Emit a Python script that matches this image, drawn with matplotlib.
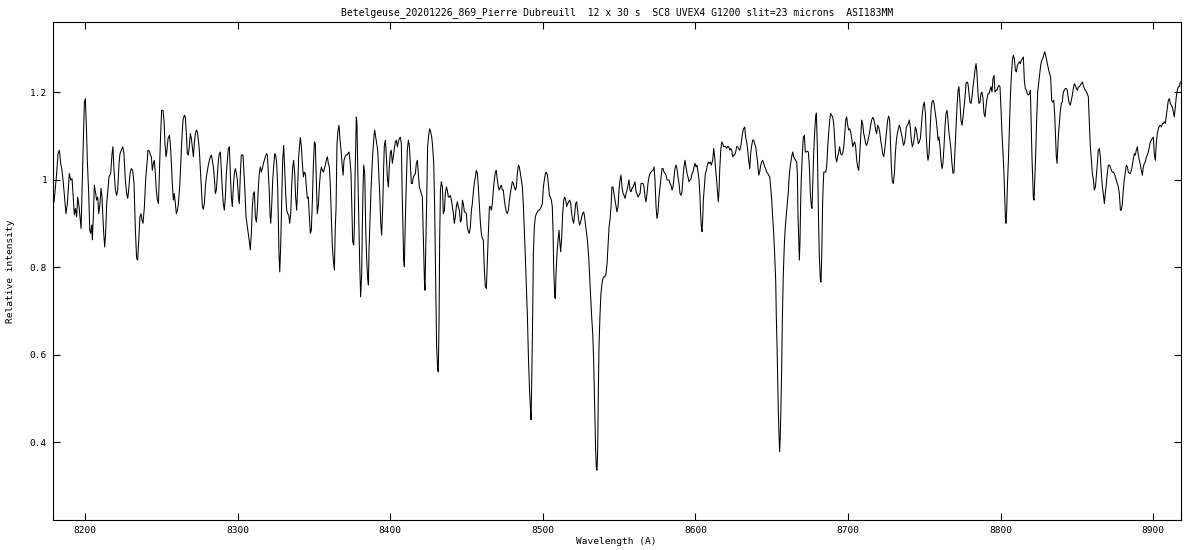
import numpy as np
import matplotlib
matplotlib.use("Agg")
import matplotlib.pyplot as plt
from matplotlib.ticker import FixedLocator, FuncFormatter

title = "Betelgeuse_20201226_869_Pierre Dubreuill  12 x 30 s  SC8 UVEX4 G1200 slit=23 microns  ASI183MM"
x_label = "Wavelength (A)"
y_label = "Relative intensity"
x_ticks = [8200, 8300, 8400, 8500, 8600, 8700, 8800, 8900]
y_ticks = [0.4, 0.6, 0.8, 1.0, 1.2]

wl_1 = [8178.8, 8179.7, 8180.6, 8181.4, 8182.3, 8183.2, 8184.05, 8184.9, 8185.8, 8186.7, 8187.5, 8188.4, 8189.1, 8189.7, 8190.6, 8191.5, 8192.4, 8193.0, 8193.7, 8194.5, 8195.2, 8196.1, 8196.7, 8197.4, 8198.2, 8198.9, 8199.6, 8200.2, 8200.9, 8201.5, 8202.4, 8203.1, 8203.7, 8204.4, 8204.8, 8205.5, 8206.1, 8207.0, 8207.6, 8208.3, 8209.0, 8209.8, 8210.5, 8211.1, 8211.8, 8212.4, 8212.9, 8213.5, 8214.2, 8215.1, 8215.7, 8216.8, 8217.7, 8218.3, 8219.0, 8219.9, 8220.7, 8221.4, 8222.3, 8222.9, 8223.8, 8224.7, 8225.5, 8226.4, 8227.3, 8228.0, 8228.6, 8229.5, 8230.3, 8231.2, 8232.1, 8233.0, 8233.8, 8234.5, 8235.2, 8236.0, 8236.7, 8237.3, 8238.0, 8238.9, 8239.7, 8240.6, 8241.3]
fl_1 = [0.980, 0.949, 0.983, 1.014, 1.059, 1.067, 1.037, 1.021, 0.991, 0.953, 0.922, 0.945, 0.983, 1.014, 0.999, 1.002, 0.953, 0.919, 0.934, 0.915, 0.960, 0.938, 0.915, 0.888, 0.999, 1.090, 1.177, 1.185, 1.120, 1.044, 0.968, 0.884, 0.877, 0.896, 0.862, 0.922, 0.987, 0.968, 0.953, 0.960, 0.922, 0.945, 0.980, 0.960, 0.907, 0.869, 0.846, 0.877, 0.945, 0.983, 1.006, 1.014, 1.059, 1.075, 1.021, 0.976, 0.964, 0.976, 1.037, 1.059, 1.067, 1.075, 1.059, 0.999, 0.968, 0.957, 0.976, 1.014, 1.025, 1.021, 0.991, 0.884, 0.820, 0.816, 0.862, 0.915, 0.922, 0.907, 0.900, 0.938, 0.999, 1.037, 1.067]

wl_2 = [8242.2, 8242.8, 8243.5, 8244.1, 8244.8, 8245.4, 8246.1, 8246.7, 8247.4, 8248.1, 8248.7, 8249.4, 8250.2, 8251.1, 8251.8, 8252.4, 8253.1, 8253.7, 8254.4, 8255.3, 8255.9, 8256.6, 8257.2, 8257.9, 8258.5, 8259.2, 8259.8, 8260.5, 8261.2, 8262.0, 8262.7, 8263.3, 8264.2, 8265.1, 8265.7, 8266.4, 8267.05, 8267.7, 8268.4, 8269.0, 8269.7, 8270.3, 8271.0, 8271.6, 8272.3, 8273.0, 8273.6, 8274.3, 8274.9, 8275.6, 8276.2, 8276.9, 8277.5, 8278.2, 8278.85, 8279.5, 8280.2, 8280.8, 8281.5, 8282.1, 8282.8, 8283.4, 8284.1, 8284.7, 8285.4, 8286.05, 8286.7, 8287.4, 8288.0, 8288.7, 8289.3, 8290.0, 8290.6, 8291.3, 8291.95, 8292.6, 8293.3, 8293.9, 8294.6, 8295.2, 8295.9, 8296.5, 8297.2, 8297.85, 8298.5, 8299.2, 8299.8, 8300.5, 8301.1, 8301.8, 8302.4]
fl_2 = [1.065, 1.056, 1.052, 1.021, 1.037, 1.044, 1.014, 0.976, 0.953, 0.945, 1.014, 1.090, 1.158, 1.158, 1.132, 1.082, 1.052, 1.067, 1.094, 1.101, 1.082, 1.037, 0.991, 0.953, 0.968, 0.945, 0.922, 0.930, 0.945, 0.983, 1.033, 1.082, 1.136, 1.147, 1.143, 1.105, 1.059, 1.056, 1.078, 1.105, 1.094, 1.075, 1.052, 1.082, 1.105, 1.113, 1.109, 1.090, 1.067, 1.021, 0.983, 0.938, 0.932, 0.945, 0.983, 1.006, 1.021, 1.033, 1.044, 1.052, 1.056, 1.044, 1.029, 1.006, 0.968, 0.976, 1.010, 1.044, 1.059, 1.063, 1.021, 0.976, 0.945, 0.930, 0.960, 1.014, 1.044, 1.071, 1.075, 1.014, 0.960, 0.938, 0.983, 1.014, 1.025, 1.014, 0.999, 0.960, 0.945, 1.014, 1.056]

wl_3 = [8303.5, 8304.2, 8304.85, 8305.5, 8306.4, 8307.0, 8307.7, 8308.3, 8309.0, 8309.65, 8310.3, 8311.0, 8311.6, 8312.3, 8312.9, 8313.6, 8314.2, 8314.9, 8315.55, 8316.2, 8316.9, 8317.5, 8318.2, 8318.8, 8319.5, 8320.1, 8320.8, 8321.2, 8321.7, 8322.3, 8323.0, 8323.6, 8324.3, 8324.9, 8325.6, 8326.25, 8326.7, 8327.1, 8327.6, 8328.2, 8328.9, 8329.5, 8330.2, 8330.8, 8331.5, 8332.15, 8332.8, 8333.5, 8334.1, 8334.8, 8335.4, 8336.1, 8336.7, 8337.4, 8338.0, 8338.7, 8339.35, 8340.0, 8340.7, 8341.1, 8341.8, 8342.4, 8343.1, 8343.7, 8344.4, 8345.0, 8345.7, 8346.3, 8347.0, 8347.65, 8348.3, 8349.0, 8349.6, 8350.3, 8350.9, 8351.6, 8352.2, 8352.9, 8353.55, 8354.2, 8354.9, 8355.5, 8356.2, 8356.8, 8357.5, 8358.1, 8358.8, 8359.45, 8360.1, 8360.8, 8361.4, 8362.1, 8362.7, 8363.4, 8364.0, 8364.5]
fl_3 = [1.056, 1.014, 0.968, 0.915, 0.892, 0.877, 0.858, 0.839, 0.877, 0.938, 0.968, 0.972, 0.915, 0.903, 0.930, 0.983, 1.014, 1.029, 1.017, 1.025, 1.037, 1.044, 1.052, 1.059, 1.056, 1.014, 0.968, 0.922, 0.900, 0.938, 0.999, 1.029, 1.059, 1.056, 1.037, 0.983, 0.900, 0.831, 0.789, 0.846, 0.953, 1.044, 1.078, 1.029, 0.968, 0.930, 0.922, 0.919, 0.900, 0.922, 0.983, 1.029, 1.044, 1.014, 0.960, 0.930, 0.983, 1.052, 1.082, 1.096, 1.075, 1.037, 1.006, 1.017, 1.014, 0.983, 0.957, 0.960, 0.915, 0.877, 0.884, 0.953, 1.029, 1.086, 1.082, 0.991, 0.922, 0.941, 0.983, 1.014, 1.029, 1.021, 1.017, 1.025, 1.033, 1.044, 1.052, 1.037, 1.029, 0.983, 0.915, 0.846, 0.816, 0.793, 0.892, 0.934]

wl_4 = [8365.1, 8365.8, 8366.45, 8367.1, 8367.8, 8368.4, 8369.1, 8369.7, 8370.4, 8371.0, 8371.7, 8372.3, 8373.0, 8373.65, 8374.3, 8375.0, 8375.4, 8376.1, 8376.5, 8376.9, 8377.4, 8377.8, 8378.2, 8378.7, 8379.3, 8380.0, 8380.6, 8381.3, 8381.7, 8382.2, 8382.6, 8383.3, 8383.9, 8384.6, 8385.2, 8385.7, 8386.1, 8386.8, 8387.4, 8388.1, 8388.7, 8389.4, 8389.8, 8390.5, 8391.1, 8391.8, 8392.4, 8393.1, 8393.75, 8394.4, 8395.1, 8395.7, 8396.15, 8396.8, 8397.5, 8398.1, 8398.8, 8399.4, 8400.1, 8400.7, 8401.4, 8402.05, 8402.7, 8403.4, 8404.0, 8404.7, 8405.3, 8406.0, 8406.6, 8407.3, 8407.7, 8408.4, 8408.8, 8409.25, 8409.9, 8410.6, 8411.2, 8411.9, 8412.5, 8413.2, 8413.8, 8414.5, 8415.15, 8415.8, 8416.5, 8417.1, 8417.8, 8418.4, 8419.1, 8419.7, 8420.4, 8421.05, 8421.7, 8422.4, 8422.8, 8423.2, 8423.9, 8424.5, 8425.2, 8425.85]
fl_4 = [1.082, 1.113, 1.124, 1.090, 1.067, 1.037, 1.010, 1.044, 1.052, 1.056, 1.056, 1.059, 1.063, 1.044, 1.014, 0.915, 0.858, 0.850, 0.892, 0.999, 1.082, 1.143, 1.128, 1.029, 0.930, 0.808, 0.732, 0.785, 0.892, 0.983, 1.033, 1.014, 0.892, 0.816, 0.774, 0.759, 0.839, 0.915, 0.976, 1.029, 1.067, 1.101, 1.113, 1.097, 1.082, 1.067, 1.021, 0.968, 0.903, 0.873, 0.938, 1.029, 1.078, 1.090, 1.052, 1.006, 0.983, 1.029, 1.063, 1.067, 1.037, 1.052, 1.071, 1.086, 1.090, 1.075, 1.086, 1.094, 1.097, 1.082, 0.991, 0.877, 0.816, 0.801, 0.907, 0.999, 1.067, 1.090, 1.078, 1.037, 0.991, 0.991, 1.006, 1.010, 1.014, 1.037, 1.044, 1.014, 0.983, 0.976, 0.968, 0.960, 0.869, 0.770, 0.747, 0.831, 0.953, 1.075, 1.101, 1.116]

wl_5 = [8426.5, 8427.2, 8427.8, 8428.5, 8429.1, 8429.8, 8430.4, 8431.1, 8431.5, 8432.0, 8432.4, 8432.9, 8433.5, 8434.2, 8434.8, 8435.5, 8436.1, 8436.8, 8437.4, 8438.1, 8438.75, 8439.4, 8440.1, 8440.7, 8441.4, 8442.0, 8442.7, 8443.3, 8444.0, 8444.6, 8445.3, 8446.0, 8446.6, 8447.3, 8447.9, 8448.6, 8449.2, 8449.9, 8450.5, 8451.2, 8451.85, 8452.5, 8453.2, 8453.8, 8454.5, 8455.1, 8455.8, 8456.4, 8457.1, 8457.75, 8458.4, 8459.1, 8459.7, 8460.4, 8461.0, 8461.7, 8462.3, 8463.0, 8463.65, 8464.3, 8465.0, 8465.6, 8466.3, 8466.9, 8467.6, 8468.2, 8468.9, 8469.5, 8470.2, 8470.85, 8471.5, 8472.2, 8472.8, 8473.5, 8474.1, 8474.8, 8475.4, 8476.1, 8476.75, 8477.4, 8478.1, 8478.7, 8479.4, 8480.0, 8480.7, 8481.3, 8482.0, 8482.65, 8483.3, 8484.0, 8484.6, 8485.3, 8485.9, 8486.6, 8487.2]
fl_5 = [1.109, 1.097, 1.075, 1.037, 0.938, 0.770, 0.618, 0.565, 0.561, 0.679, 0.862, 0.976, 0.995, 0.983, 0.922, 0.930, 0.968, 0.983, 0.976, 0.960, 0.960, 0.964, 0.953, 0.938, 0.922, 0.900, 0.915, 0.938, 0.949, 0.938, 0.930, 0.903, 0.907, 0.953, 0.945, 0.926, 0.926, 0.922, 0.892, 0.881, 0.877, 0.892, 0.930, 0.945, 0.972, 0.991, 1.006, 1.021, 1.014, 0.983, 0.945, 0.900, 0.877, 0.865, 0.862, 0.793, 0.755, 0.751, 0.816, 0.877, 0.938, 0.938, 0.930, 0.945, 0.976, 0.999, 1.017, 1.021, 0.999, 0.983, 0.976, 0.983, 0.987, 0.976, 0.976, 0.953, 0.938, 0.926, 0.922, 0.930, 0.953, 0.968, 0.983, 0.995, 0.991, 0.983, 0.976, 0.983, 1.014, 1.033, 1.029, 1.014, 0.999, 0.983, 0.945]

wl_6 = [8487.9, 8488.55, 8489.2, 8489.9, 8490.5, 8491.2, 8491.8, 8492.3, 8492.7, 8493.4, 8493.8, 8494.45, 8495.1, 8495.8, 8496.4, 8497.1, 8497.7, 8498.4, 8499.0, 8499.7, 8500.35, 8501.0, 8501.7, 8502.3, 8503.0, 8503.6, 8504.3, 8504.9, 8505.6, 8506.2, 8506.7, 8507.1, 8507.8, 8508.2, 8508.65, 8509.3, 8510.0, 8510.6, 8511.05, 8511.7, 8512.4, 8513.0, 8513.7, 8514.3, 8515.0, 8515.6, 8516.3, 8516.95, 8517.6, 8518.3, 8518.9, 8519.6, 8520.2, 8520.9, 8521.5, 8522.2, 8522.8, 8523.5, 8524.15, 8524.8, 8525.5, 8526.1, 8526.8, 8527.4, 8528.1, 8528.7, 8529.4, 8530.05, 8530.7, 8531.4, 8532.0, 8532.7, 8533.3, 8534.0, 8534.6, 8535.1, 8535.5, 8535.95, 8536.4, 8536.8, 8537.5, 8538.1, 8538.8, 8539.4, 8540.1, 8540.75, 8541.4, 8542.1, 8542.7, 8543.4, 8544.0, 8544.7, 8545.3, 8546.0, 8546.6, 8547.3, 8547.95, 8548.6]
fl_6 = [0.884, 0.823, 0.755, 0.687, 0.603, 0.527, 0.481, 0.451, 0.534, 0.702, 0.831, 0.892, 0.915, 0.922, 0.926, 0.930, 0.930, 0.934, 0.938, 0.945, 0.983, 0.999, 1.014, 1.017, 1.010, 0.991, 0.964, 0.960, 0.953, 0.938, 0.884, 0.801, 0.732, 0.728, 0.785, 0.831, 0.862, 0.884, 0.862, 0.835, 0.869, 0.922, 0.953, 0.960, 0.953, 0.938, 0.945, 0.949, 0.953, 0.945, 0.922, 0.907, 0.900, 0.922, 0.945, 0.949, 0.930, 0.907, 0.896, 0.903, 0.915, 0.922, 0.926, 0.915, 0.892, 0.877, 0.854, 0.823, 0.778, 0.732, 0.687, 0.648, 0.588, 0.481, 0.382, 0.340, 0.336, 0.382, 0.519, 0.618, 0.694, 0.740, 0.763, 0.774, 0.778, 0.778, 0.785, 0.808, 0.846, 0.892, 0.907, 0.938, 0.983, 0.983, 0.968, 0.953, 0.938, 0.926]

wl_7 = [8549.3, 8549.9, 8550.6, 8551.25, 8551.9, 8552.6, 8553.2, 8553.9, 8554.5, 8555.2, 8555.8, 8556.5, 8557.1, 8557.8, 8558.45, 8559.1, 8559.8, 8560.4, 8561.1, 8561.7, 8562.4, 8563.0, 8563.7, 8564.35, 8565.0, 8565.7, 8566.3, 8567.0, 8567.6, 8568.3, 8568.9, 8569.6, 8570.25, 8570.9, 8571.6, 8572.2, 8572.9, 8573.5, 8574.2, 8574.8, 8575.5, 8576.1, 8576.8, 8577.45, 8578.1, 8578.8, 8579.4, 8580.1, 8580.7, 8581.4, 8582.0, 8582.7, 8583.35, 8584.0, 8584.7, 8585.3, 8586.0, 8586.6, 8587.3, 8587.9, 8588.6, 8589.25, 8589.9, 8590.6, 8591.2, 8591.9, 8592.5, 8593.2, 8593.8, 8594.5, 8595.1, 8595.8, 8596.5, 8597.1, 8597.8, 8598.4, 8599.1, 8599.7, 8600.4, 8601.0, 8601.7, 8602.35, 8603.0, 8603.4, 8603.9, 8604.3, 8604.75, 8605.2, 8605.85, 8606.5, 8607.2, 8607.8, 8608.5, 8609.1, 8609.8, 8610.4]
fl_7 = [0.938, 0.976, 0.999, 1.010, 0.983, 0.968, 0.964, 0.957, 0.968, 0.976, 0.987, 0.999, 0.976, 0.972, 0.980, 0.983, 0.989, 0.995, 0.972, 0.968, 0.960, 0.964, 0.968, 0.991, 0.991, 0.991, 0.983, 0.960, 0.949, 0.968, 0.991, 1.006, 1.014, 1.017, 1.020, 1.021, 1.029, 0.999, 0.938, 0.911, 0.926, 0.960, 0.983, 1.006, 1.025, 1.025, 1.017, 1.014, 1.010, 0.999, 0.999, 0.999, 0.991, 0.987, 0.976, 0.983, 1.006, 1.025, 1.033, 1.025, 1.006, 0.991, 0.968, 0.964, 0.972, 1.006, 1.029, 1.044, 1.029, 1.014, 1.006, 0.995, 0.999, 1.002, 1.014, 1.017, 1.029, 1.037, 1.029, 1.033, 1.017, 0.999, 0.960, 0.922, 0.892, 0.881, 0.907, 0.953, 0.983, 1.014, 1.021, 1.033, 1.040, 1.037, 1.040, 1.033]

wl_8 = [8611.3, 8612.0, 8612.6, 8613.3, 8613.9, 8614.6, 8615.0, 8615.5, 8615.9, 8616.6, 8617.2, 8617.9, 8618.5, 8619.2, 8619.8, 8620.5, 8621.15, 8621.8, 8622.5, 8623.1, 8623.8, 8624.4, 8625.1, 8625.7, 8626.4, 8627.0, 8627.7, 8628.35, 8629.0, 8629.7, 8630.3, 8631.0, 8631.6, 8632.3, 8632.9, 8633.6, 8634.25, 8634.9, 8635.6, 8636.2, 8636.9, 8637.5, 8638.2, 8638.8, 8639.5, 8640.15, 8640.8, 8641.5, 8642.1, 8642.8, 8643.4, 8644.1, 8644.7, 8645.4, 8646.0, 8646.7, 8647.35, 8648.0, 8648.7, 8649.3, 8650.0, 8650.6, 8651.3, 8651.9, 8652.6, 8653.0, 8653.5, 8653.9, 8654.3, 8654.8, 8655.2, 8655.65, 8656.1, 8656.5, 8657.0, 8657.6, 8658.3, 8658.9, 8659.6, 8660.2, 8660.9, 8661.3, 8661.8, 8662.4, 8663.1, 8663.7, 8664.4, 8665.0, 8665.7, 8666.35, 8666.8, 8667.2, 8667.7, 8668.1, 8668.5, 8669.0, 8669.4, 8670.1, 8670.7, 8671.4, 8672.0]
fl_8 = [1.044, 1.071, 1.052, 1.021, 0.999, 0.968, 0.949, 0.976, 1.021, 1.067, 1.086, 1.082, 1.075, 1.076, 1.075, 1.071, 1.076, 1.075, 1.067, 1.071, 1.067, 1.052, 1.056, 1.056, 1.063, 1.075, 1.075, 1.071, 1.067, 1.075, 1.090, 1.109, 1.116, 1.120, 1.097, 1.086, 1.067, 1.044, 1.025, 1.059, 1.078, 1.090, 1.090, 1.082, 1.075, 1.056, 1.037, 1.010, 1.017, 1.033, 1.040, 1.044, 1.037, 1.029, 1.025, 1.017, 1.014, 1.010, 1.006, 0.983, 0.953, 0.915, 0.877, 0.831, 0.770, 0.687, 0.618, 0.542, 0.473, 0.413, 0.378, 0.420, 0.489, 0.565, 0.687, 0.785, 0.854, 0.892, 0.922, 0.945, 0.972, 0.999, 1.021, 1.037, 1.052, 1.063, 1.052, 1.048, 1.044, 1.040, 1.014, 0.922, 0.862, 0.816, 0.854, 0.953, 1.006, 1.059, 1.097, 1.101, 1.063]

wl_9 = [8672.7, 8673.35, 8674.0, 8674.7, 8675.3, 8676.0, 8676.4, 8676.85, 8677.5, 8678.2, 8678.8, 8679.25, 8679.9, 8680.6, 8681.2, 8681.9, 8682.3, 8682.75, 8683.4, 8684.1, 8684.7, 8685.4, 8686.0, 8686.7, 8687.3, 8688.0, 8688.6, 8689.3, 8689.95, 8690.6, 8691.3, 8691.9, 8692.6, 8693.2, 8693.9, 8694.5, 8695.2, 8695.85, 8696.5, 8697.2, 8697.8, 8698.5, 8699.1, 8699.8, 8700.4, 8701.1, 8701.75, 8702.4, 8703.1, 8703.7, 8704.4, 8705.0, 8705.7, 8706.3, 8707.0, 8707.6, 8708.3, 8708.95, 8709.6, 8710.3, 8710.9, 8711.6, 8712.2, 8712.9, 8713.5, 8714.2, 8714.85, 8715.5, 8716.2, 8716.8, 8717.5, 8718.1, 8718.8, 8719.4, 8720.1, 8720.75, 8721.4, 8722.1, 8722.7, 8723.4, 8724.0, 8724.7, 8725.3, 8726.0, 8726.6, 8727.3, 8727.95, 8728.4, 8729.05, 8729.7, 8730.4, 8731.0, 8731.7, 8732.3, 8733.0, 8733.6]
fl_9 = [1.063, 1.065, 1.063, 1.029, 0.968, 0.938, 0.934, 0.983, 1.059, 1.113, 1.143, 1.152, 1.075, 0.922, 0.823, 0.770, 0.766, 0.823, 0.953, 1.017, 1.017, 1.017, 1.029, 1.075, 1.105, 1.135, 1.151, 1.147, 1.143, 1.128, 1.090, 1.052, 1.040, 1.052, 1.063, 1.075, 1.059, 1.056, 1.059, 1.075, 1.101, 1.136, 1.143, 1.124, 1.113, 1.116, 1.109, 1.094, 1.075, 1.082, 1.086, 1.075, 1.044, 1.029, 1.021, 1.052, 1.097, 1.136, 1.128, 1.105, 1.094, 1.082, 1.078, 1.086, 1.097, 1.109, 1.124, 1.136, 1.142, 1.139, 1.128, 1.113, 1.105, 1.124, 1.120, 1.109, 1.090, 1.075, 1.059, 1.052, 1.067, 1.090, 1.113, 1.136, 1.145, 1.136, 1.075, 1.029, 0.995, 0.991, 1.014, 1.059, 1.090, 1.105, 1.116, 1.124]

wl_10 = [8734.3, 8734.95, 8735.6, 8736.25, 8736.9, 8737.6, 8738.2, 8738.9, 8739.5, 8740.2, 8740.8, 8741.5, 8742.15, 8742.8, 8743.5, 8744.1, 8744.8, 8745.4, 8746.1, 8746.7, 8747.4, 8748.05, 8748.7, 8749.4, 8750.0, 8750.7, 8751.3, 8752.0, 8752.4, 8753.1, 8753.7, 8754.4, 8755.0, 8755.7, 8756.35, 8757.0, 8757.7, 8758.3, 8759.0, 8759.6, 8760.3, 8760.9, 8761.6, 8762.2, 8762.9, 8763.55, 8764.2, 8764.9, 8765.5, 8766.2, 8766.8, 8767.5, 8768.1, 8768.8, 8769.45, 8770.1, 8770.8, 8771.4, 8772.1, 8772.7, 8773.4, 8774.0, 8774.7, 8775.35, 8776.0, 8776.7, 8777.3, 8778.0, 8778.6, 8779.3, 8779.9, 8780.6, 8781.25, 8781.9, 8782.6, 8783.2, 8783.9, 8784.5, 8785.2, 8785.8, 8786.5, 8787.1, 8787.8, 8788.45, 8789.1, 8789.8, 8790.4, 8791.1, 8791.7, 8792.4, 8793.0, 8793.7, 8794.35, 8795.0, 8795.7]
fl_10 = [1.116, 1.105, 1.094, 1.078, 1.082, 1.097, 1.120, 1.124, 1.128, 1.136, 1.120, 1.090, 1.075, 1.082, 1.097, 1.120, 1.113, 1.097, 1.082, 1.086, 1.094, 1.120, 1.151, 1.170, 1.177, 1.151, 1.097, 1.056, 1.044, 1.059, 1.105, 1.158, 1.177, 1.181, 1.174, 1.158, 1.139, 1.120, 1.090, 1.097, 1.075, 1.044, 1.025, 1.037, 1.075, 1.120, 1.151, 1.158, 1.136, 1.105, 1.090, 1.067, 1.037, 1.014, 1.017, 1.067, 1.120, 1.166, 1.204, 1.212, 1.174, 1.136, 1.124, 1.143, 1.166, 1.189, 1.219, 1.223, 1.219, 1.196, 1.177, 1.174, 1.189, 1.212, 1.231, 1.250, 1.265, 1.242, 1.196, 1.174, 1.177, 1.196, 1.200, 1.185, 1.151, 1.143, 1.166, 1.185, 1.196, 1.196, 1.204, 1.212, 1.200, 1.231, 1.238]

wl_11 = [8796.3, 8797.0, 8797.6, 8798.3, 8799.0, 8799.6, 8800.3, 8800.9, 8801.6, 8802.2, 8802.7, 8803.1, 8803.5, 8804.0, 8804.4, 8805.1, 8805.7, 8806.4, 8807.0, 8807.7, 8808.3, 8809.0, 8809.65, 8810.3, 8811.0, 8811.6, 8812.3, 8812.9, 8813.6, 8814.2, 8814.9, 8815.55, 8816.2, 8816.9, 8817.5, 8818.2, 8818.8, 8819.5, 8820.1, 8820.6, 8821.0, 8821.4, 8821.9, 8822.3, 8823.0, 8823.6, 8824.3, 8824.9, 8825.6, 8826.25, 8826.9, 8827.6, 8828.2, 8828.9, 8829.5, 8830.2, 8830.8, 8831.5, 8832.1, 8832.8, 8833.45, 8834.1, 8834.8, 8835.4, 8836.1, 8836.5, 8837.0, 8837.4, 8837.8, 8838.5, 8839.1, 8839.8, 8840.4, 8841.1, 8841.75, 8842.4, 8843.1, 8843.7, 8844.4, 8845.0, 8845.7, 8846.3, 8847.0, 8847.65, 8848.3, 8849.0, 8849.6, 8850.3, 8850.9, 8851.6, 8852.2, 8852.9, 8853.55, 8854.2, 8854.9, 8855.5, 8856.2, 8856.8]
fl_11 = [1.200, 1.204, 1.204, 1.212, 1.215, 1.212, 1.158, 1.105, 1.059, 1.014, 0.960, 0.915, 0.900, 0.930, 0.983, 1.044, 1.113, 1.189, 1.234, 1.272, 1.284, 1.276, 1.250, 1.246, 1.261, 1.265, 1.269, 1.265, 1.272, 1.276, 1.280, 1.227, 1.208, 1.204, 1.196, 1.193, 1.196, 1.204, 1.113, 1.044, 1.006, 0.960, 0.953, 0.991, 1.059, 1.136, 1.200, 1.219, 1.242, 1.261, 1.272, 1.276, 1.284, 1.292, 1.284, 1.272, 1.261, 1.250, 1.242, 1.234, 1.181, 1.177, 1.181, 1.151, 1.090, 1.052, 1.037, 1.067, 1.097, 1.128, 1.155, 1.174, 1.177, 1.200, 1.204, 1.208, 1.208, 1.204, 1.185, 1.174, 1.170, 1.181, 1.193, 1.208, 1.219, 1.215, 1.208, 1.204, 1.212, 1.212, 1.215, 1.219, 1.223, 1.215, 1.208, 1.204, 1.200, 1.196]

wl_12 = [8857.5, 8858.15, 8858.8, 8859.5, 8860.1, 8860.8, 8861.4, 8862.1, 8862.7, 8863.4, 8864.0, 8864.7, 8865.35, 8866.0, 8866.7, 8867.3, 8868.0, 8868.6, 8869.3, 8869.9, 8870.6, 8871.25, 8871.9, 8872.6, 8873.2, 8873.9, 8874.5, 8875.2, 8875.8, 8876.5, 8877.15, 8877.8, 8878.5, 8879.1, 8879.8, 8880.4, 8881.1, 8881.7, 8882.4, 8883.05, 8883.7, 8884.4, 8885.0, 8885.7, 8886.3, 8887.0, 8887.6, 8888.3, 8888.9, 8889.6, 8890.25, 8890.9, 8891.6, 8892.2, 8892.9, 8893.5, 8894.2, 8894.8, 8895.5, 8896.15, 8896.8, 8897.5, 8898.1, 8898.8, 8899.4, 8900.1, 8900.7, 8901.4, 8902.0, 8902.7, 8903.35, 8904.0, 8904.7, 8905.3, 8906.0, 8906.6, 8907.3, 8907.9, 8908.6, 8909.25, 8909.9, 8910.6, 8911.2, 8911.9, 8912.5, 8913.2, 8913.8, 8914.5, 8915.1, 8915.8, 8916.45, 8917.1, 8917.8]
fl_12 = [1.189, 1.128, 1.075, 1.044, 1.014, 0.999, 0.976, 0.983, 1.006, 1.037, 1.067, 1.071, 1.052, 1.014, 0.983, 0.968, 0.945, 0.968, 0.991, 1.014, 1.033, 1.033, 1.029, 1.021, 1.017, 1.017, 1.014, 1.006, 0.999, 0.991, 0.983, 0.968, 0.930, 0.930, 0.945, 0.976, 1.002, 1.017, 1.033, 1.029, 1.017, 1.014, 1.014, 1.021, 1.033, 1.048, 1.059, 1.056, 1.067, 1.075, 1.056, 1.044, 1.033, 1.021, 1.010, 1.029, 1.037, 1.040, 1.052, 1.056, 1.063, 1.075, 1.086, 1.090, 1.094, 1.097, 1.059, 1.044, 1.082, 1.105, 1.116, 1.122, 1.124, 1.120, 1.128, 1.128, 1.132, 1.128, 1.147, 1.166, 1.181, 1.185, 1.174, 1.170, 1.166, 1.155, 1.143, 1.166, 1.189, 1.204, 1.212, 1.212, 1.223]

wavelength = np.concatenate([wl_1, wl_2, wl_3, wl_4, wl_5, wl_6, wl_7, wl_8, wl_9, wl_10, wl_11, wl_12])
intensity = np.concatenate([fl_1, fl_2, fl_3, fl_4, fl_5, fl_6, fl_7, fl_8, fl_9, fl_10, fl_11, fl_12])

mono = "DejaVu Sans Mono"
fs = 6.8

fig = plt.figure(figsize=(12, 5.5), dpi=100)
ax = fig.add_axes([0.0439, 0.0545, 0.94, 0.9055])
ax.plot(wavelength, intensity, color="black", linewidth=0.75, antialiased=True)
ax.set_xlim(8178.8, 8918.0)
ax.set_ylim(0.222, 1.36)

ax.xaxis.set_major_locator(FixedLocator(x_ticks))
ax.yaxis.set_major_locator(FixedLocator(y_ticks))
ax.yaxis.set_major_formatter(FuncFormatter(lambda v, p: ("%g" % v)))
ax.tick_params(direction="in", length=5, width=0.8, top=True, right=True,
               labelsize=fs, pad=4)
for lab in ax.get_xticklabels() + ax.get_yticklabels():
    lab.set_family(mono)
for s in ax.spines.values():
    s.set_linewidth(0.8)

ax.set_title(title, fontsize=7.0, family=mono, pad=5)
ax.set_xlabel(x_label, fontsize=fs, family=mono, labelpad=2)
ax.set_ylabel(y_label, fontsize=fs, family=mono, labelpad=11)

fig.savefig("out.png", dpi=100, facecolor="white")
